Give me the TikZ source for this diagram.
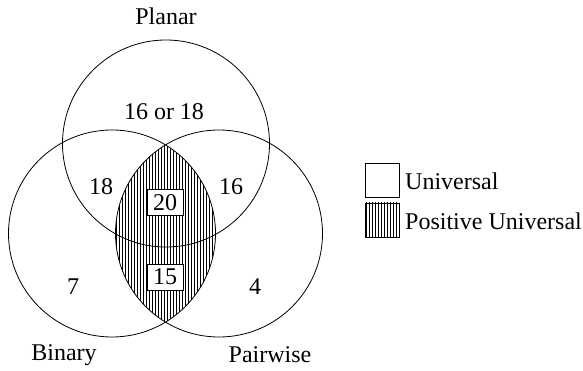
\documentclass[tikz,border=0pt]{standalone}
\usepackage{fontspec}
\setmainfont{Liberation Serif}
\begin{document}
\begin{tikzpicture}[x=1pt,y=-1pt,
  lbl/.style={font=\fontsize{24}{26}\selectfont, inner sep=0pt},
  numbox/.style={lbl, draw, fill=white, line width=0.8pt, minimum width=36pt, minimum height=26pt},
  venn/.style={line width=0.8pt},
  hatch/.style={line width=0.6pt},
  legbox/.style={draw, line width=0.8pt, minimum width=34pt, minimum height=34pt, inner sep=0pt}]
\useasboundingbox (0,0) rectangle (583,371);
% hatched lens
\begin{scope}
  \clip (112,233.5) circle (103.5);
  \clip (219,233.5) circle (103.5);
  \foreach \x in {113,116,...,220} \draw[hatch] (\x,120) -- (\x,340);
\end{scope}
% circles
\draw[venn] (166,143.5) circle (103.5);
\draw[venn] (112,233.5) circle (103.5);
\draw[venn] (219,233.5) circle (103.5);
% labels
\node[lbl] (planar) at (166,16) {Planar};
\node[lbl] (binary) at (64,355) {Binary};
\node[lbl] (pairwise) at (270,355) {Pairwise};
\node[lbl] (p) at (164,112) {16 or 18};
\node[lbl] (pb) at (101,187) {18};
\node[lbl] (pp) at (231,187) {16};
\node[lbl] (b) at (73,287) {7};
\node[lbl] (w) at (255,287) {4};
\node[numbox] (all) at (165,202.5) {20};
\node[numbox] (bw) at (165,277) {15};
% legend
\node[legbox, fill=white] (lu) at (382,180) {};
\node[legbox] (lp) at (382,220) {};
\begin{scope}
  \clip (365,203) rectangle (399,237);
  \foreach \x in {366,369,...,399} \draw[hatch] (\x,200) -- (\x,240);
\end{scope}
\node[legbox] at (lp) {};
\node[lbl, anchor=west] (tu) at (405,181) {Universal};
\node[lbl, anchor=west] (tp) at (405,221) {Positive Universal};
\end{tikzpicture}
\end{document}
